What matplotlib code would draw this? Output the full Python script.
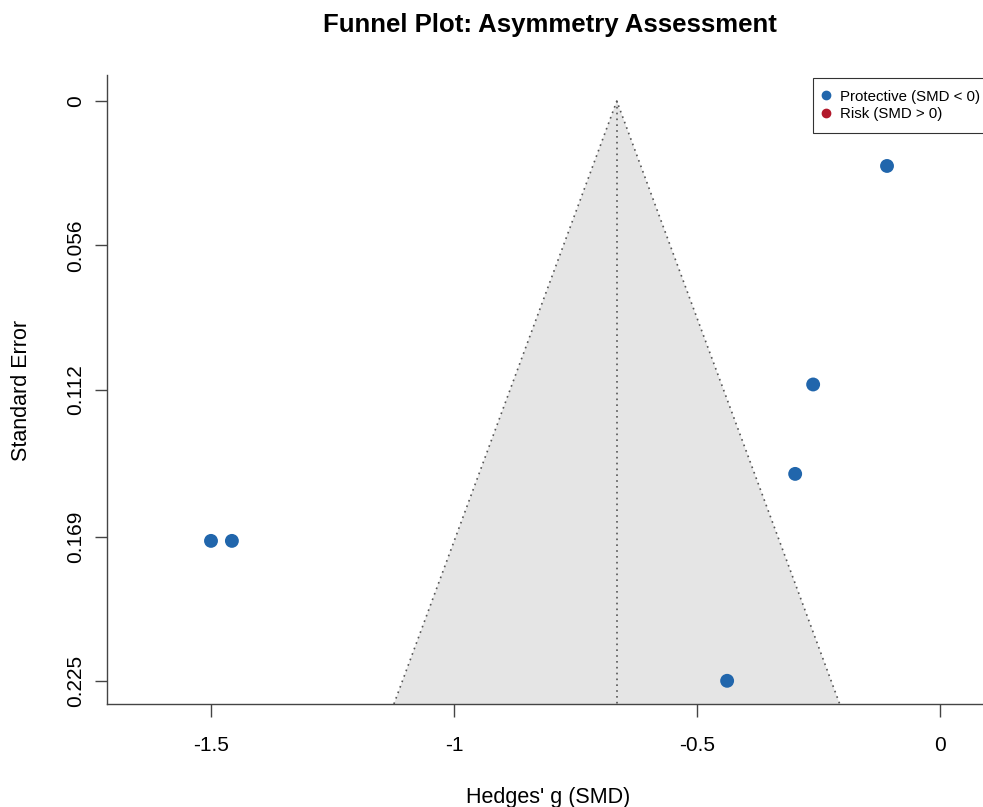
import numpy as np
import matplotlib
matplotlib.use("Agg")
import matplotlib.pyplot as plt
from matplotlib.lines import Line2D

plt.rcParams['font.family'] = ['Liberation Sans', 'DejaVu Sans']

# Data
smd = [-0.109, -0.261, -0.298, -1.500, -1.457, -0.438]
se = [0.0252, 0.110, 0.1447, 0.1707, 0.1707, 0.225]
pooled = -0.665
ytick_vals = [0, 0.056, 0.112, 0.169, 0.225]
ytick_labels = ["0", "0.056", "0.112", "0.169", "0.225"]
xtick_vals = [-1.5, -1, -0.5, 0]
xtick_labels = ["-1.5", "-1", "-0.5", "0"]

blue = "#2166AC"
red = "#B2182B"

fig = plt.figure(figsize=(9.83, 8.07), dpi=100)
ax = fig.add_axes([107/983, 1-704/807, 1-107/983, (704-75)/807])

ylo, yhi = -0.0101, 0.234
xlo, xhi = -1.714, 0.0885
ax.set_xlim(xlo, xhi)
ax.set_ylim(yhi, ylo)

# funnel
ax.fill([pooled - 1.96*yhi, pooled, pooled + 1.96*yhi],
        [yhi, 0, yhi], color="#E5E5E5", zorder=1, lw=0)
ax.plot([pooled - 1.96*yhi, pooled, pooled + 1.96*yhi], [yhi, 0, yhi],
        color="#555555", lw=1.2, ls=(0, (1, 2.5)), zorder=2)
ax.plot([pooled, pooled], [0, yhi], color="#555555", lw=1.2, ls=(0, (1, 2.5)), zorder=2)

cols = [blue if v < 0 else red for v in smd]
ax.scatter(smd, se, s=100, c=cols, zorder=3, edgecolors='none')

for s in ['top', 'right']:
    ax.spines[s].set_visible(False)
for s in ['left', 'bottom']:
    ax.spines[s].set_color("#444444")
    ax.spines[s].set_linewidth(1)

ax.set_xticks(xtick_vals)
ax.set_xticklabels(xtick_labels)
ax.set_yticks(ytick_vals)
ax.set_yticklabels(ytick_labels, rotation=90, va='center')
ax.tick_params(axis='x', length=9, width=1, color="#444444", labelsize=15, pad=14)
ax.tick_params(axis='y', length=9, width=1, color="#444444", labelsize=15, pad=7)

fig.text(22/983, 1-390/807, "Standard Error", rotation=90, ha='center', va='center', fontsize=15.5)
fig.text(548/983, 1-797/807, "Hedges' g (SMD)", ha='center', va='center', fontsize=15.5)
fig.text(550/983, 1-25/807, "Funnel Plot: Asymmetry Assessment", ha='center', va='center',
         fontsize=18.5, fontweight='bold')

handles = [Line2D([], [], marker='o', ls='none', color=blue, markersize=6),
           Line2D([], [], marker='o', ls='none', color=red, markersize=6)]
leg = ax.legend(handles, ["Protective (SMD < 0)", "Risk (SMD > 0)"],
                loc='upper left', bbox_to_anchor=(813/983, 1-78/807),
                bbox_transform=fig.transFigure, frameon=True, fancybox=False,
                edgecolor='black', fontsize=10.8, handletextpad=0.85, handlelength=0.2,
                borderpad=0.78, labelspacing=0.23, borderaxespad=0)
leg.get_frame().set_linewidth(0.8)

fig.savefig("out.png", dpi=100)
